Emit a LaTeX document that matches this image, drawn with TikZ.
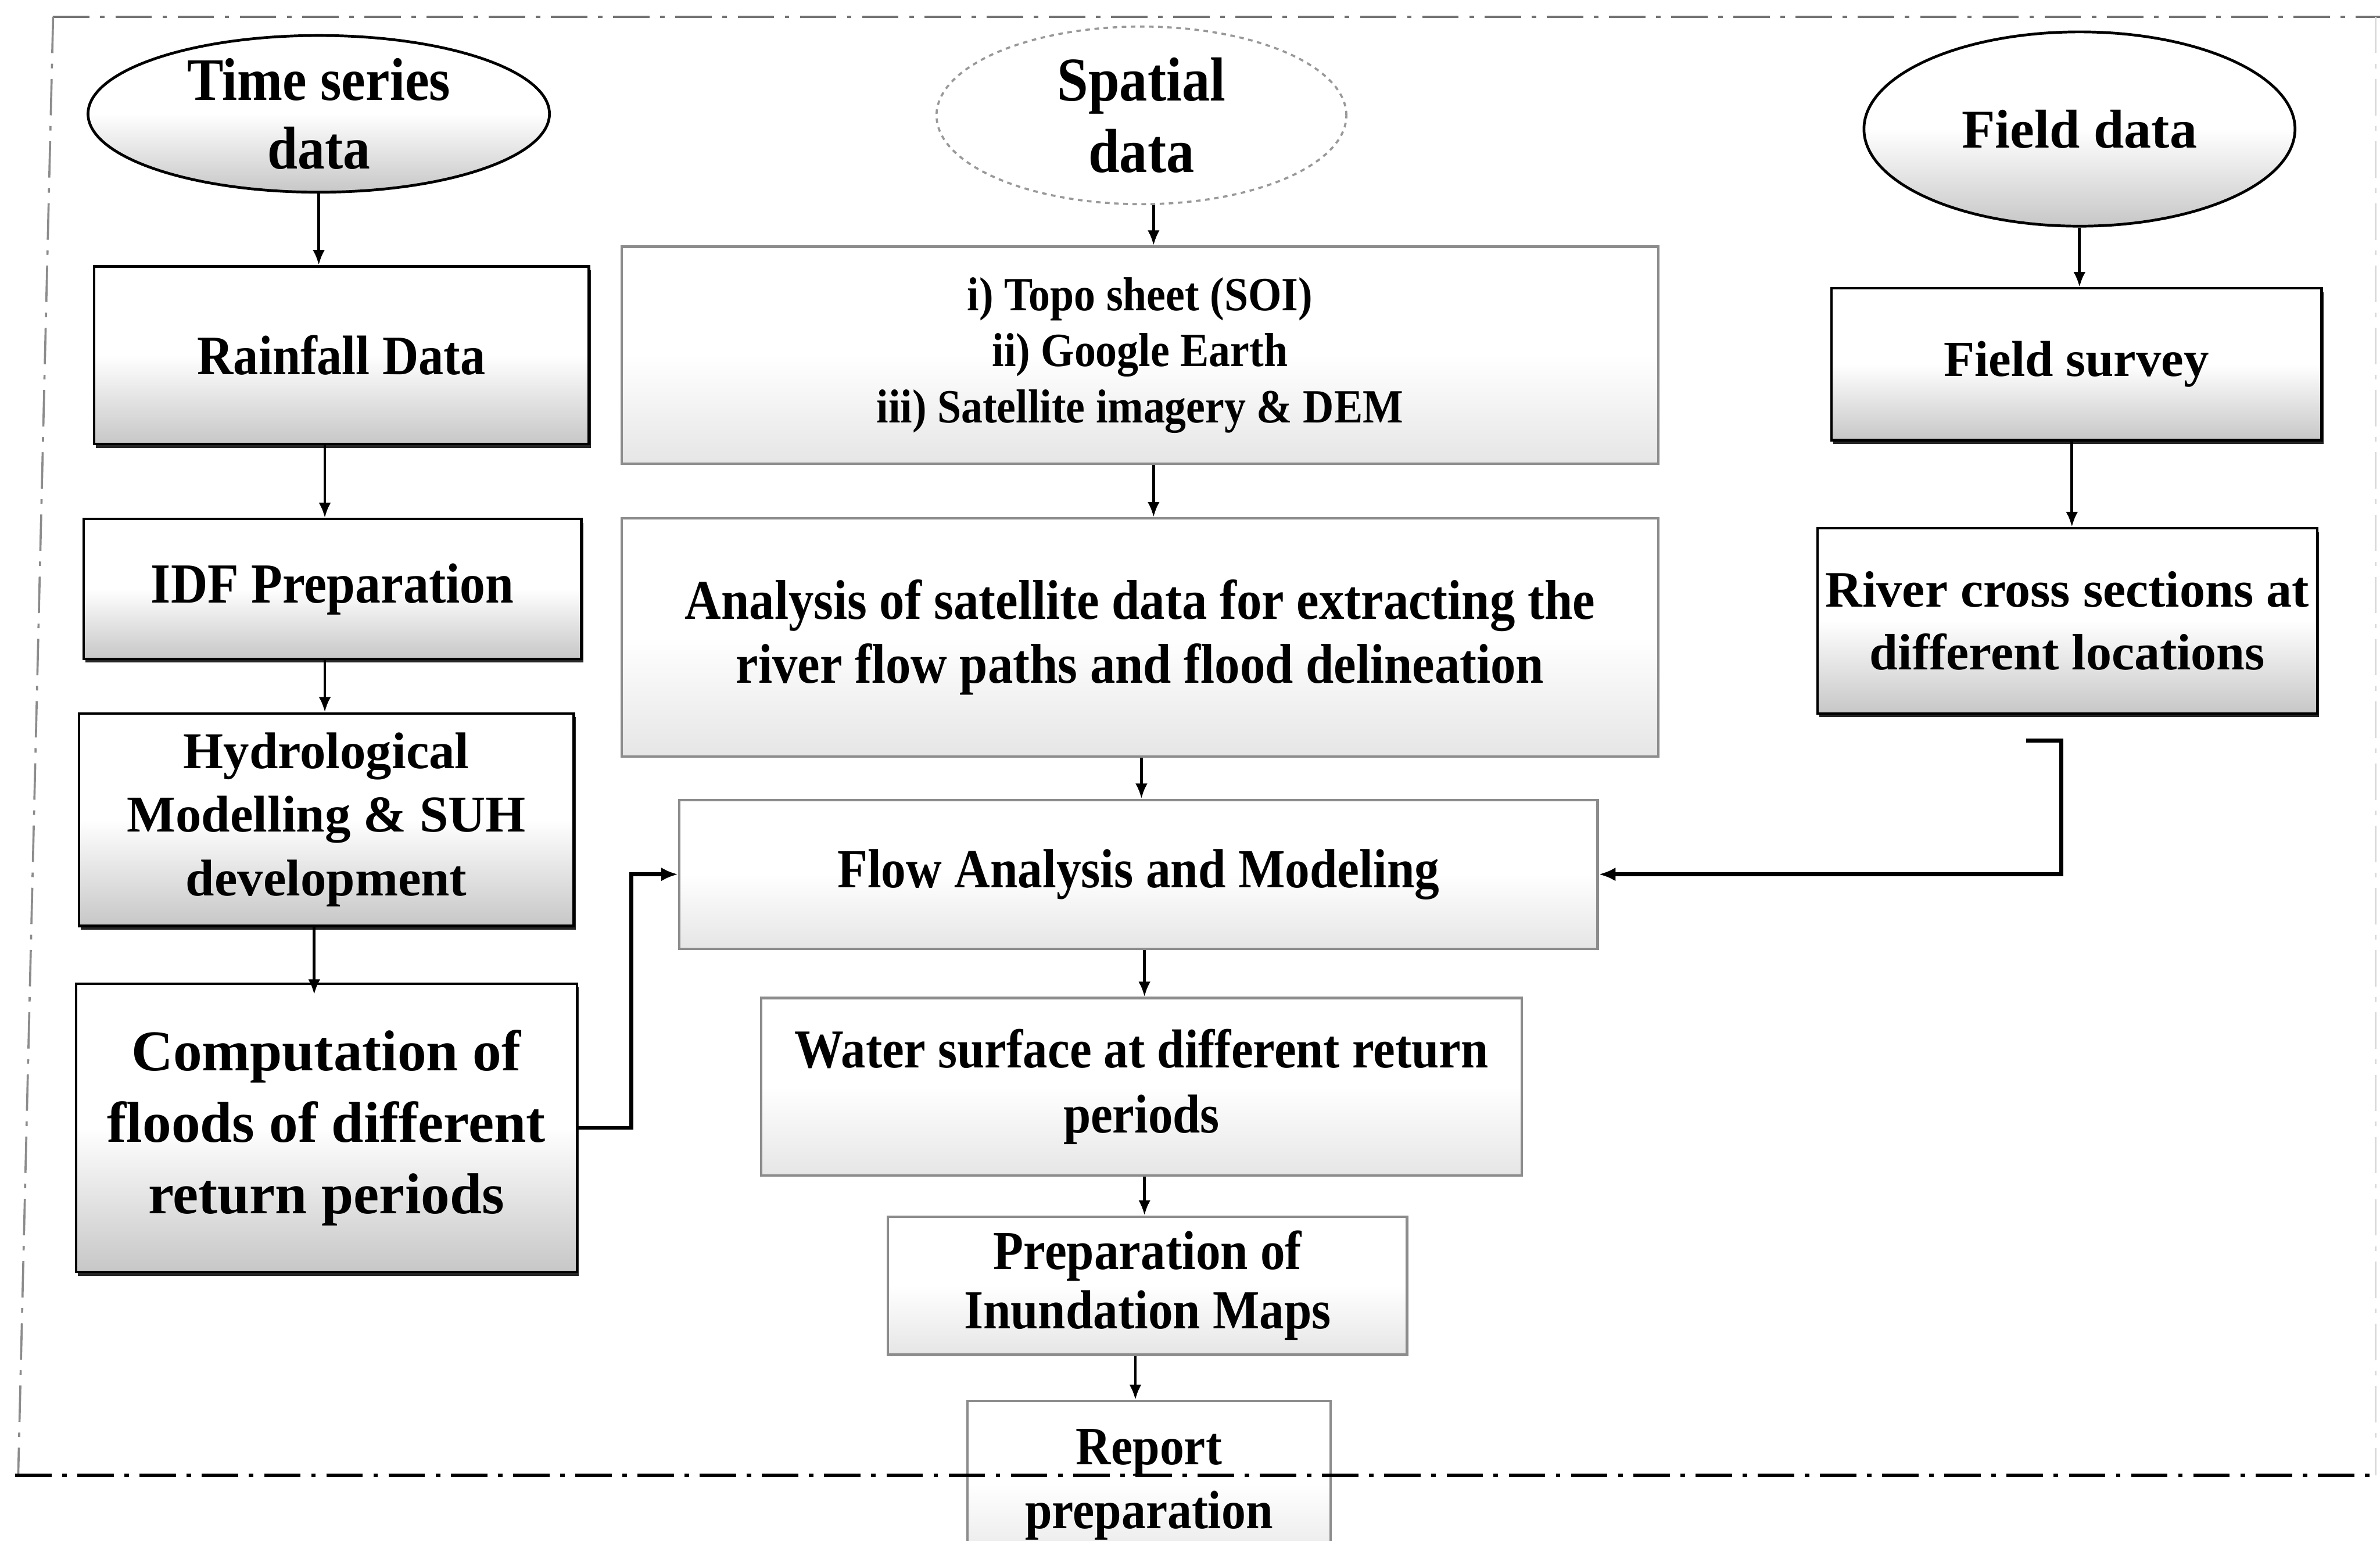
\documentclass[tikz,border=0pt]{standalone}
\usepackage{fontspec}
\setmainfont{Liberation Serif}
\newfontfamily\condfont[FakeStretch=0.9]{Liberation Serif}
\usetikzlibrary{shapes.geometric,arrows.meta,shadows}
\newcommand\fsz[2]{\fontsize{#1}{#2}\selectfont}
\tikzset{
  darkbox/.style={rectangle,draw=black,line width=1.6pt,top color=white,bottom color=black!22,middle color=white,
     drop shadow={shadow xshift=1.2pt,shadow yshift=-2.5pt,fill=black!85,opacity=1},
     align=center,inner sep=2pt},
  lightbox/.style={rectangle,draw=black!45,line width=1.6pt,top color=white,bottom color=black!10,middle color=white,
     align=center,inner sep=2pt},
  darkell/.style={ellipse,draw=black,line width=1.8pt,top color=white,bottom color=black!22,middle color=white,
     align=center,inner sep=0pt},
  lightell/.style={ellipse,draw=black!40,line width=1.4pt,dashed,fill=white,align=center,inner sep=0pt},
  arr/.style={-{Latex[length=10pt,width=8pt]},line width=1.8pt,black},
  thickarr/.style={-{Latex[length=11pt,width=9pt]},line width=2.6pt,black},
  framedash/.style={dash pattern=on 24pt off 7pt on 3pt off 7pt}
}
\begin{document}
\begin{tikzpicture}[x=1pt,y=-1pt]
\useasboundingbox (0,0) rectangle (1568,1015);
\fill[white] (0,0) rectangle (1568,1015);
% outer frame (top, left, right)
\draw[framedash,black!55,line width=1.6pt] (35,11) -- (1568,11);
\draw[framedash,black!45,line width=1.4pt] (35,11) -- (12,972);
\draw[framedash,black!15,line width=1.2pt] (1565,11) -- (1565,972);

% left column
\node[darkell,minimum width=304,minimum height=100,font=\condfont\bfseries\fsz{39.8}{45}] (TS) at (210,75)
  {Time series\\data};
\node[darkbox,minimum width=326,minimum height=117,font=\condfont\bfseries\fsz{36.7}{42}] (Rain) at (225,234) {Rainfall Data};
\node[darkbox,minimum width=328,minimum height=92,font=\condfont\bfseries\fsz{37.3}{42}] (IDF) at (219,388) {IDF Preparation};
\node[darkbox,minimum width=326,minimum height=140,font=\bfseries\fsz{34}{42}] (Hyd) at (215,540) {Hydrological\\Modelling \& SUH\\development};
\node[darkbox,minimum width=330,minimum height=190,font=\bfseries\fsz{38}{47}] (Comp) at (215,743) {Computation of\\floods of different\\return periods};

% centre column
\node[lightell,minimum width=270,minimum height=117,font=\condfont\bfseries\fsz{41}{47}] (SP) at (752,76)
  {Spatial\\data};
\node[lightbox,minimum width=683,minimum height=143,font=\condfont\bfseries\fsz{31.4}{37}] (Topo) at (751,234)
  {i) Topo sheet (SOI)\\ii) Google Earth\\iii) Satellite imagery \& DEM};
\node[lightbox,minimum width=683,minimum height=157,font=\condfont\bfseries\fsz{36.9}{42}] (Anal) at (751,420)
  {Analysis of satellite data for extracting the\\river flow paths and flood delineation};
\node[lightbox,minimum width=605,minimum height=98,font=\condfont\bfseries\fsz{36.3}{42}] (Flow) at (750,576)
  {Flow Analysis and Modeling};
\node[lightbox,minimum width=501,minimum height=117,font=\condfont\bfseries\fsz{36.1}{43}] (Water) at (752,716)
  {Water surface at different return\\periods};
\node[lightbox,minimum width=342,minimum height=91,font=\condfont\bfseries\fsz{36.2}{39}] (Inund) at (756,847)
  {Preparation of\\Inundation Maps};
\node[lightbox,minimum width=239,minimum height=110,font=\condfont\bfseries\fsz{35.6}{42}] (Rep) at (757,978)
  {Report\\preparation};

% right column
\node[darkell,minimum width=284,minimum height=128,font=\bfseries\fsz{36}{42}] (FD) at (1370,85)
  {Field data};
\node[darkbox,minimum width=323,minimum height=100,font=\bfseries\fsz{33.3}{40}] (FS) at (1368,240) {Field survey};
\node[darkbox,minimum width=329,minimum height=122,font=\bfseries\fsz{33.7}{41}] (Riv) at (1362,409)
  {River cross sections at\\different locations};

% bottom frame line drawn over the report box
\draw[framedash,black,line width=2.2pt] (10,972) -- (1568,972);

% connectors
\draw[arr] (TS) -- (TS |- Rain.north);
\draw[arr] (Rain.south -| 214,0) -- (IDF.north -| 214,0);
\draw[arr] (IDF.south -| 214,0) -- (Hyd.north -| 214,0);
\draw[arr] (Hyd.south -| 207,0) -- ([yshift=-8pt]Comp.north -| 207,0);
\draw[thickarr] (Comp.east) -- ++(35,0) |- (Flow.west);

\draw[arr] (SP.south -| 760,0) -- (Topo.north -| 760,0);
\draw[arr] (Topo.south -| 760,0) -- (Anal.north -| 760,0);
\draw[arr] (Anal.south -| 752,0) -- (Flow.north -| 752,0);
\draw[arr] (Flow.south -| 754,0) -- (Water.north -| 754,0);
\draw[arr] (Water.south -| 754,0) -- (Inund.north -| 754,0);
\draw[arr] (Inund.south -| 748,0) -- (Rep.north -| 748,0);

\draw[arr] (FD) -- (FD |- FS.north);
\draw[arr] (FS.south -| 1365,0) -- (Riv.north -| 1365,0);
\coordinate (rvout) at (1335,488);
\draw[thickarr] (rvout) -- ++(23,0) |- (Flow.east);
\end{tikzpicture}
\end{document}
